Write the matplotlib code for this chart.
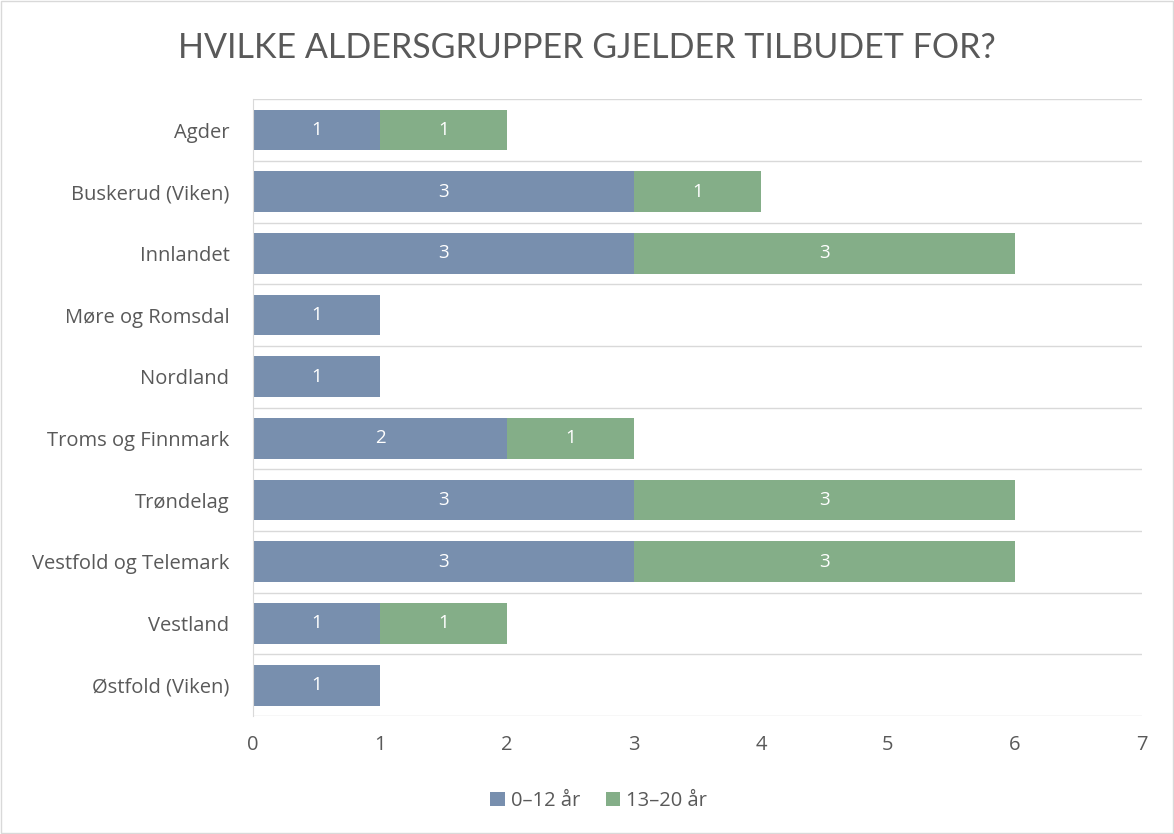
import numpy as np
import matplotlib.pyplot as plt
from matplotlib.patches import Rectangle

plt.rcParams['font.family'] = ['Open Sans', 'DejaVu Sans']

regions = ['Agder', 'Buskerud (Viken)', 'Innlandet', 'Møre og Romsdal', 'Nordland',
           'Troms og Finnmark', 'Trøndelag', 'Vestfold og Telemark', 'Vestland',
           'Østfold (Viken)']
young = [1, 3, 3, 1, 1, 2, 3, 3, 1, 1]
teen = [1, 1, 3, 0, 0, 1, 3, 3, 1, 0]
series_names = ['0–12 år', '13–20 år']

BLUE = '#788fae'
GREEN = '#84ae88'
TEXT = '#595959'
GRID = '#d9d9d9'

fig = plt.figure(figsize=(11.74, 8.34), dpi=100)
fig.patches.append(Rectangle((0.001, 0.001), 0.998, 0.998, transform=fig.transFigure,
                             fill=False, edgecolor=GRID, lw=1))
ax = fig.add_axes([0.2155, 0.1415, 0.9727 - 0.2155, 0.881 - 0.1415])

y = np.arange(len(regions))
h = 0.66
b1 = ax.barh(y, young, height=h, color=BLUE, label=series_names[0])
b2 = ax.barh(y, teen, left=young, height=h, color=GREEN, label=series_names[1])

for bars, vals in [(b1, young), (b2, teen)]:
    for rect, v in zip(bars, vals):
        if v == 0:
            continue
        ax.text(rect.get_x() + rect.get_width() / 2, rect.get_y() + rect.get_height() / 2,
                str(v), ha='center', va='center', color='white', fontsize=13.5)

ax.set_xlim(0, 7)
ax.set_ylim(len(regions) - 0.5, -0.5)
ax.set_yticks(y)
ax.set_yticklabels(regions)
ax.set_xticks(range(8))
for yy in np.arange(-0.5, len(regions), 1):
    ax.axhline(yy, color=GRID, lw=1, zorder=0)

for s in ['top', 'right', 'bottom']:
    ax.spines[s].set_visible(False)
ax.spines['left'].set_color(GRID)
ax.tick_params(axis='both', length=0, colors=TEXT, labelsize=14.5)
ax.tick_params(axis='y', pad=17)
ax.tick_params(axis='x', pad=14)

fig.text(0.5, 0.942, 'HVILKE ALDERSGRUPPER GJELDER TILBUDET FOR?', ha='center', va='center',
         fontsize=24.5, color=TEXT, family=['Lato', 'DejaVu Sans'])

fig.legend(handles=[b1, b2], loc='center', bbox_to_anchor=(0.51, 0.04), ncol=2,
           frameon=False, fontsize=14.5, labelcolor=TEXT, handlelength=0.7,
           handleheight=0.7, handletextpad=0.3, columnspacing=1.3)

fig.savefig('out.png', dpi=100)
